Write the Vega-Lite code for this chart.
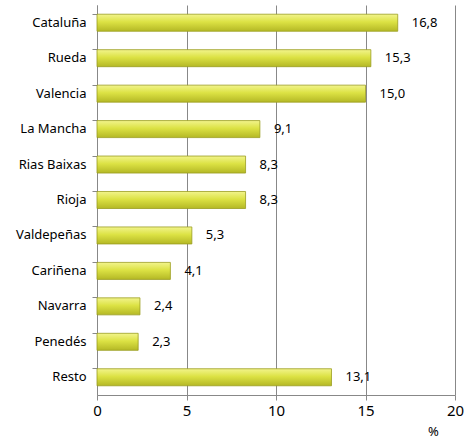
{
  "$schema": "https://vega.github.io/schema/vega-lite/v6.json",
  "width": 358,
  "height": 390,
  "autosize": {"type": "none"},
  "padding": {"left": 97, "top": 5, "right": 11, "bottom": 47},
  "background": "white",
  "config": {
    "view": {"stroke": null},
    "font": "Noto Sans",
    "locale": {"number": {"decimal": ",", "thousands": ".", "grouping": [3], "currency": ["", " €"]}}
  },
  "data": {"values": [
    {"region": "Cataluña", "pct": 16.8},
    {"region": "Rueda", "pct": 15.3},
    {"region": "Valencia", "pct": 15.0},
    {"region": "La Mancha", "pct": 9.1},
    {"region": "Rias Baixas", "pct": 8.3},
    {"region": "Rioja", "pct": 8.3},
    {"region": "Valdepeñas", "pct": 5.3},
    {"region": "Cariñena", "pct": 4.1},
    {"region": "Navarra", "pct": 2.4},
    {"region": "Penedés", "pct": 2.3},
    {"region": "Resto", "pct": 13.1}
  ]},
  "encoding": {
    "y": {"field": "region", "type": "nominal", "sort": null,
      "scale": {"paddingInner": 0.52, "paddingOuter": 0.26},
      "axis": {"title": null, "bandPosition": 0, "domainColor": "#888888", "tickColor": "#888888", "tickSize": 5, "labelFontSize": 13, "labelColor": "#000000", "labelPadding": 6, "grid": false}},
    "x": {"field": "pct", "type": "quantitative",
      "scale": {"domain": [0, 20], "nice": false},
      "axis": {"values": [0, 5, 10, 15, 20], "title": "%", "titleFontSize": 13, "titleFontWeight": "normal", "titleX": 336, "titleY": 30, "titleBaseline": "top", "titleAlign": "center",
        "grid": true, "gridColor": "#888888", "domainColor": "#888888", "tickColor": "#888888", "tickSize": 5, "labelFontSize": 15, "labelColor": "#000000", "labelPadding": 3, "labelFlush": false}}
  },
  "layer": [
    {"mark": {"type": "bar", "stroke": "#9a9d20", "strokeWidth": 0.8,
      "color": {"gradient": "linear", "x1": 0, "y1": 0, "x2": 0, "y2": 1,
        "stops": [{"offset": 0, "color": "#f2f48c"}, {"offset": 0.45, "color": "#dce244"}, {"offset": 1, "color": "#b4b825"}]}}},
    {"mark": {"type": "text", "align": "left", "dx": 14, "fontSize": 13, "color": "#000000"},
     "encoding": {"text": {"field": "pct", "type": "quantitative", "format": ".1f"}}}
  ]
}
